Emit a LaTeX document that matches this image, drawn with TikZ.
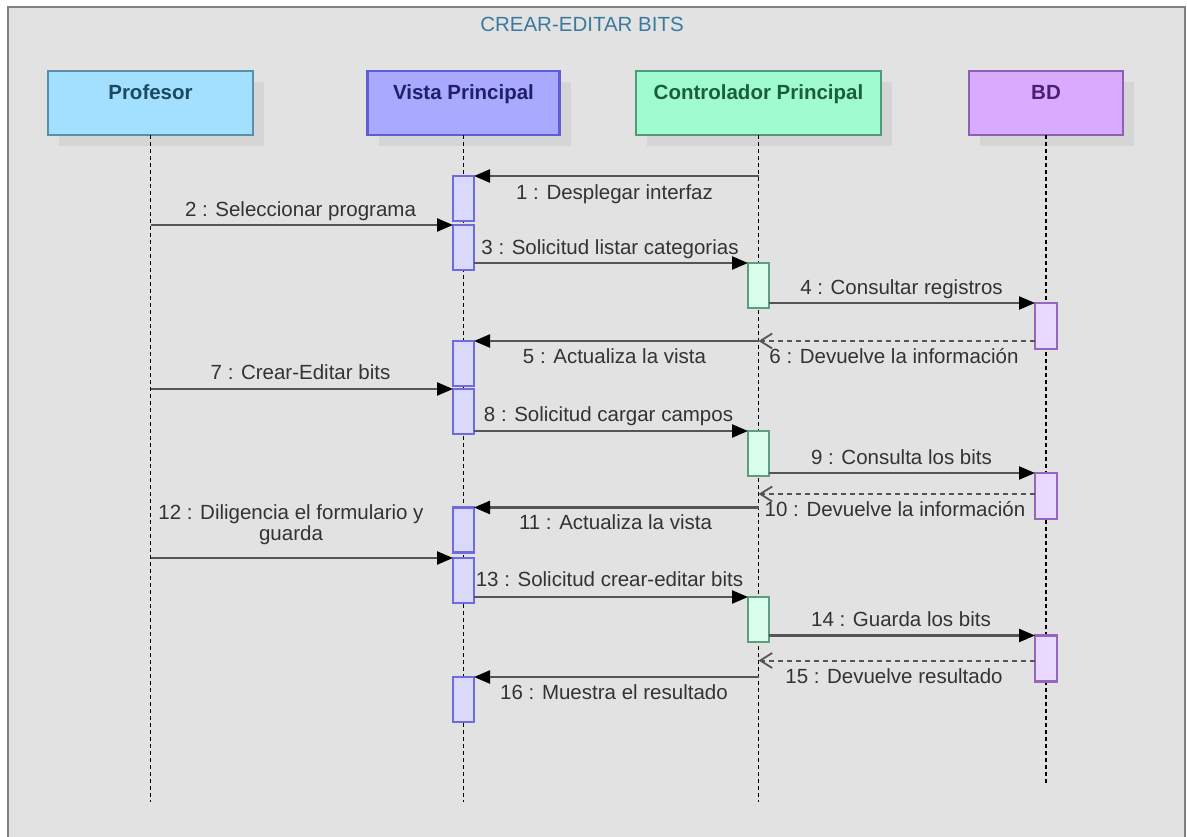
\documentclass[tikz,border=0pt]{standalone}
\usepackage{fontspec}
\setmainfont{Liberation Sans}
\usetikzlibrary{arrows.meta}
\definecolor{canvas}{HTML}{E2E2E2}
\definecolor{framecol}{HTML}{808080}
\definecolor{shadowcol}{HTML}{D5D5D5}
\definecolor{titlecol}{HTML}{3B7A9E}
\definecolor{labelcol}{HTML}{333333}
\definecolor{msgcol}{HTML}{555555}
\definecolor{profFill}{HTML}{A3DFFF}
\definecolor{profDraw}{HTML}{5A8FA8}
\definecolor{profText}{HTML}{1B4A5E}
\definecolor{vistaFill}{HTML}{A9A9FF}
\definecolor{vistaDraw}{HTML}{5D5DD6}
\definecolor{vistaText}{HTML}{20206A}
\definecolor{vistaAct}{HTML}{D9D9FC}
\definecolor{vistaActDraw}{HTML}{6C6CE0}
\definecolor{ctrlFill}{HTML}{A0FCD0}
\definecolor{ctrlDraw}{HTML}{4F9A77}
\definecolor{ctrlText}{HTML}{1B5E3F}
\definecolor{ctrlAct}{HTML}{D9FFEC}
\definecolor{ctrlActDraw}{HTML}{5A9E7E}
\definecolor{bdFill}{HTML}{D8ABFF}
\definecolor{bdDraw}{HTML}{8D5FB6}
\definecolor{bdText}{HTML}{4B1F72}
\definecolor{bdAct}{HTML}{EAD9FF}
\definecolor{bdActDraw}{HTML}{9466C0}
\begin{document}
\begin{tikzpicture}[x=1pt,y=-1pt,
  headbox/.style={draw, line width=2.4pt, minimum height=64pt, inner sep=0pt, outer sep=0pt},
  headtxt/.style={font=\fontsize{20.5}{24}\selectfont\bfseries, inner sep=0pt, text height=14.7pt, text depth=0pt},
  lbl/.style={font=\fontsize{20.5}{24}\selectfont, text=labelcol, inner sep=0pt, text height=14.7pt, text depth=0pt},
  lifeline/.style={draw=black, line width=1.6pt, dash pattern=on 4pt off 3pt},
  actbox/.style={draw, line width=2.4pt, minimum width=21pt, minimum height=45pt, inner sep=0pt, outer sep=0pt},
  callmsg/.style={draw=msgcol, line width=2.4pt, -{Triangle[length=16pt,width=13pt,fill=black,color=black]}},
  retmsg/.style={draw=msgcol, line width=2pt, dash pattern=on 5pt off 4pt, -{Straight Barb[length=12pt,width=15pt,line width=1.8pt]}}
]
% page and frame
\useasboundingbox (0,0) rectangle (1187,837);
\fill[white] (0,0) rectangle (1187,837);
\fill[canvas] (8,7) rectangle (1185,840);
\draw[framecol, line width=2.2pt] (8,840) -- (8,7) -- (1185,7) -- (1185,840);

\node[font=\fontsize{20.5}{24}\selectfont, text=titlecol, inner sep=0pt, text height=14.7pt, text depth=0pt] (title) at (582,23.8) {CREAR-EDITAR BITS};

% header shadows
\foreach \cx/\w in {150.5/205, 463.5/192, 758.5/245, 1046/154}
  \fill[shadowcol] (\cx-\w/2+11,82) rectangle (\cx+\w/2+11,146);

% participants
\node[headbox, fill=profFill, draw=profDraw, minimum width=205pt] (prof) at (150.5,103) {};
\node[headbox, fill=vistaFill, draw=vistaDraw, minimum width=192pt] (vista) at (463.5,103) {};
\node[headbox, fill=ctrlFill, draw=ctrlDraw, minimum width=245pt] (ctrl) at (758.5,103) {};
\node[headbox, fill=bdFill, draw=bdDraw, minimum width=154pt] (bd) at (1046,103) {};
\node[headtxt, text=profText] (profT) at (150.5,91.7) {Profesor};
\node[headtxt, text=vistaText] (vistaT) at (463.5,91.7) {Vista Principal};
\node[headtxt, text=ctrlText] (ctrlT) at (758.5,91.7) {Controlador Principal};
\node[headtxt, text=bdText] (bdT) at (1046,91.7) {BD};

% lifeline ends
\coordinate (profEnd) at (150.5,802);
\coordinate (vistaEnd) at (463.5,802);
\coordinate (ctrlEnd) at (758.5,802);
\coordinate (bdEnd) at (1046,784);
\draw[lifeline] (prof.south) -- (profEnd);
\draw[lifeline] (vista.south) -- (vistaEnd);
\draw[lifeline] (ctrl.south) -- (ctrlEnd);
\draw[lifeline] (bd.south) -- (bdEnd);

% activations
\tikzset{vact/.style={actbox, fill=vistaAct, draw=vistaActDraw},
         cact/.style={actbox, fill=ctrlAct, draw=ctrlActDraw},
         bact/.style={actbox, fill=bdAct, draw=bdActDraw, minimum width=22pt, minimum height=46pt}}
\node[vact] (va1) at (463.5,198.5) {};
\node[vact] (va2) at (463.5,247.5) {};
\node[vact] (va3) at (463.5,363.5) {};
\node[vact] (va4) at (463.5,411.5) {};
\node[vact] (va5) at (463.5,530) {};
\node[vact] (va6) at (463.5,580.5) {};
\node[vact] (va7) at (463.5,699.5) {};
\node[cact] (ca1) at (758.5,285.5) {};
\node[cact] (ca2) at (758.5,453.5) {};
\node[cact] (ca3) at (758.5,619.5) {};
\node[bact] (ba1) at (1046,326) {};
\node[bact] (ba2) at (1046,496) {};
\node[bact] (ba3) at (1046,658.5) {};

% points on lifelines
\coordinate (k1) at (758.5,176);
\coordinate (p2) at (150.5,225);
\coordinate (k5) at (758.5,341);
\coordinate (p7) at (150.5,389);
\coordinate (k10) at (758.5,494);
\coordinate (k11) at (758.5,507.5);
\coordinate (p12) at (150.5,558);
\coordinate (k15) at (758.5,660.5);
\coordinate (k16) at (758.5,677);

% messages
\draw[callmsg] (k1) -- (va1.north east);
\draw[callmsg] (p2) -- (va2.north west);
\draw[callmsg] (va2.east |- ca1.north) -- (ca1.north west);
\draw[callmsg] (ca1.east |- ba1.north) -- (ba1.north west);
\draw[retmsg] (ba1.west |- k5) -- (k5);
\draw[callmsg] (k5) -- (va3.north east);
\draw[callmsg] (p7) -- (va4.north west);
\draw[callmsg] (va4.east |- ca2.north) -- (ca2.north west);
\draw[callmsg] (ca2.east |- ba2.north) -- (ba2.north west);
\draw[retmsg] (ba2.west |- k10) -- (k10);
\draw[callmsg] (k11) -- (va5.north east);
\draw[callmsg] (p12) -- (va6.north west);
\draw[callmsg] (va6.east |- ca3.north) -- (ca3.north west);
\draw[callmsg] (ca3.east |- ba3.north) -- (ba3.north west);
\draw[retmsg] (ba3.west |- k15) -- (k15);
\draw[callmsg] (k16) -- (va7.north east);

% message labels
\node[lbl] (l1) at (614.5,192) {1 : Desplegar interfaz};
\node[lbl] (l2) at (300.5,209) {2 : Seleccionar programa};
\node[lbl] (l3) at (610,247.5) {3 : Solicitud listar categorias};
\node[lbl] (l4) at (901.5,287.5) {4 : Consultar registros};
\node[lbl] (l5) at (614.5,356) {5 : Actualiza la vista};
\node[lbl] (l6) at (894,355.7) {6 : Devuelve la información};
\node[lbl] (l7) at (300.5,372.5) {7 : Crear-Editar bits};
\node[lbl] (l8) at (608.5,414) {8 : Solicitud cargar campos};
\node[lbl] (l9) at (901.5,456.7) {9 : Consulta los bits};
\node[lbl] (l10) at (895,509.5) {10 : Devuelve la información};
\node[lbl] (l11) at (615.5,522) {11 : Actualiza la vista};
\node[lbl, font=\fontsize{20.5}{18.3}\selectfont, align=center, text height=, text depth=, anchor=base] (l12) at (291,540) {12 : Diligencia el formulario y\\guarda};
\node[lbl] (l13) at (609.5,579.5) {13 : Solicitud crear-editar bits};
\node[lbl] (l14) at (901,619) {14 : Guarda los bits};
\node[lbl] (l15) at (894,676) {15 : Devuelve resultado};
\node[lbl] (l16) at (614,692) {16 : Muestra el resultado};
\end{tikzpicture}
\end{document}
